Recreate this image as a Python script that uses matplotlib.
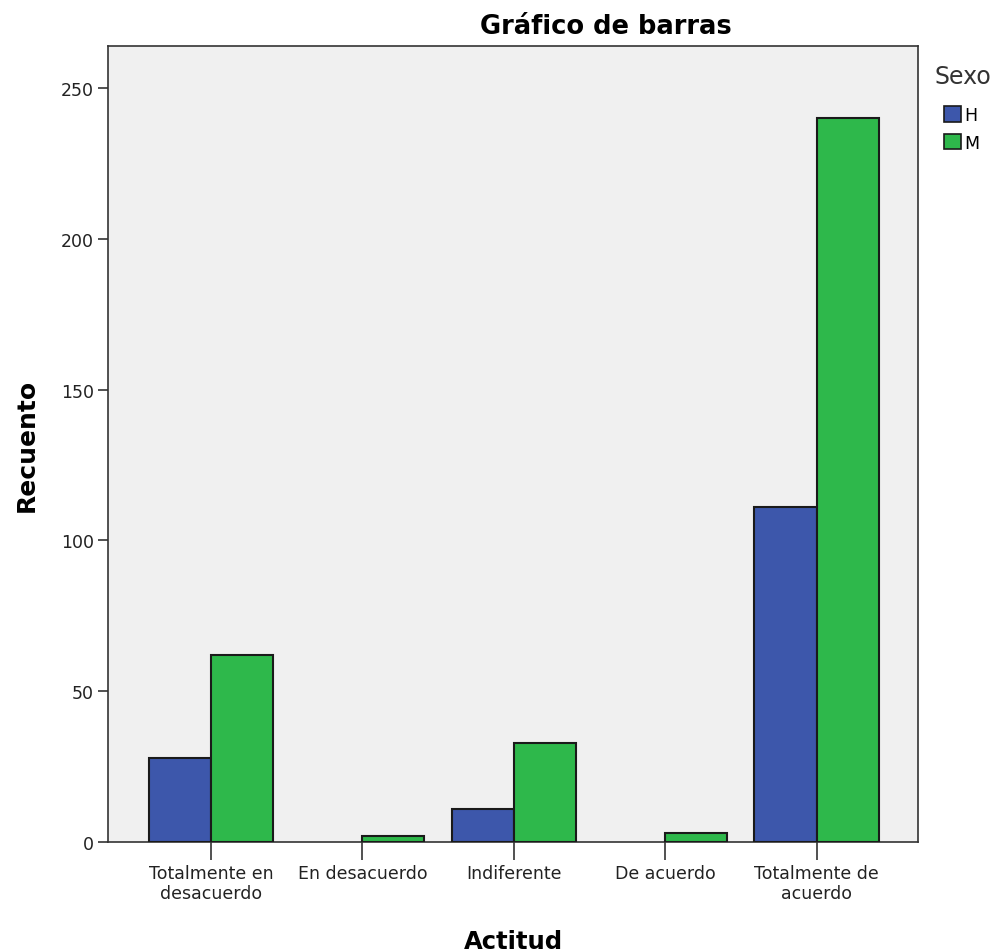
import matplotlib
matplotlib.use("Agg")
import matplotlib.pyplot as plt
import numpy as np
from matplotlib.patches import Patch

categories = ["Totalmente en\ndesacuerdo", "En desacuerdo", "Indiferente", "De acuerdo", "Totalmente de\nacuerdo"]
series_names = ["H", "M"]
values_H = [28, 0, 11, 0, 111]
values_M = [62, 2, 33, 3, 240]
yticks = [0, 50, 100, 150, 200, 250]

colors = {"H": "#3d57ab", "M": "#2eb84b"}

plt.rcParams['font.family'] = ['DejaVu Sans']
fig = plt.figure(figsize=(9.96, 9.53), dpi=100)
ax = fig.add_axes([108/996, 110/953, 810/996, 796/953])
ax.set_facecolor("#f0f0f0")

x = np.arange(len(categories))
w = 0.41
for vals, name, off in [(values_H, "H", -w/2), (values_M, "M", w/2)]:
    for xi, v in zip(x, vals):
        if v > 0:
            ax.bar(xi + off, v, width=w, color=colors[name], edgecolor="#1a1a1a", linewidth=1.5, zorder=3)

ax.set_xlim(-0.68, 4.67)
ax.set_ylim(0, 264)
ax.set_yticks(yticks)
ax.set_yticklabels([str(t) for t in yticks], fontsize=12.5, color="#222222")
ax.set_xticks(x)
ax.set_xticklabels(categories, fontsize=12.5, linespacing=1.1, color="#222222")
ax.tick_params(axis="y", length=7, width=1.2, color="#333333", pad=3)
ax.tick_params(axis="x", length=13, width=1.2, color="#333333", pad=3)
for s in ax.spines.values():
    s.set_color("#333333")
    s.set_linewidth(1.2)

ax.set_ylabel("Recuento", fontsize=18, fontweight="bold", labelpad=16)
ax.set_xlabel("Actitud", fontsize=17.5, fontweight="bold", labelpad=20)
fig.text(606/996, 1 - 27/953, "Gráfico de barras", fontsize=18.5, fontweight="bold", ha="center", va="center")

fig.text(934/996, 1 - 77/953, "Sexo", fontsize=17, color="#333333", ha="left", va="center")
handles = [Patch(facecolor=colors[n], edgecolor="#1a1a1a", linewidth=1.2, label=n) for n in series_names]
leg = fig.legend(handles=handles, loc="upper left", bbox_to_anchor=(944/996, 1 - 107/953),
                 frameon=False, fontsize=12.5, handlelength=1.0, handleheight=1.0,
                 handletextpad=0.15, labelspacing=0.55, borderpad=0.0, borderaxespad=0.0)

fig.savefig("out.png", dpi=100)
